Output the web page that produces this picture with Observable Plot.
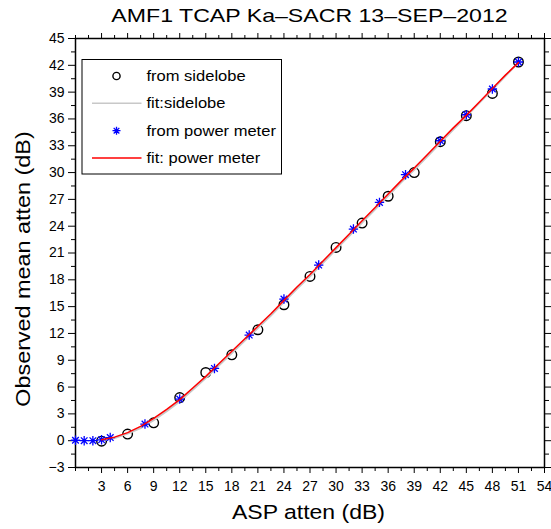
<!DOCTYPE html>
<html>
<head>
<meta charset="utf-8">
<script src="https://cdn.jsdelivr.net/npm/d3@7"></script>
<script src="https://cdn.jsdelivr.net/npm/@observablehq/plot@0.6"></script>
<style>
  body { margin: 0; background: #fff; }
  #chart svg { display: block; }
</style>
</head>
<body>
<div id="chart"></div>
<script>
// ---- data ----
const titleText = "AMF1 TCAP Ka\u2013SACR 13\u2013SEP\u20132012";
const xLabel = "ASP atten (dB)";
const yLabel = "Observed mean atten (dB)";
const legendLabels = ["from sidelobe", "fit:sidelobe", "from power meter", "fit: power meter"];

const sidelobeX = [3, 6, 9, 12, 15, 18, 21, 24, 27, 30, 33, 36, 39, 42, 45, 48, 51];
const sidelobeY = [-0.05, 0.74, 2.0, 4.83, 7.63, 9.61, 12.41, 15.21, 18.38, 21.62, 24.35, 27.35, 30.0, 33.45, 36.36, 38.86, 42.37];

const powerX = [0, 1, 2, 3, 4, 8, 12, 16, 20, 24, 28, 32, 35, 38, 42, 45, 48, 51];
const powerY = [0.05, 0.0, 0.0, 0.1, 0.35, 1.86, 4.66, 8.08, 11.82, 15.85, 19.65, 23.68, 26.66, 29.76, 33.56, 36.47, 39.35, 42.37];

const fitX = [3, 4.5, 6, 7.5, 9, 10.5, 12, 13.5, 15, 16.5, 18, 19.5, 21, 22.5, 24, 25.5, 27, 28.5, 30, 31.5, 33, 34.5, 36, 37.5, 39, 40.5, 42, 43.5, 45, 46.5, 48, 49.5, 51];
const fitPowerY = [0.1, 0.4, 0.9, 1.6, 2.5, 3.5, 4.6, 5.9, 7.2, 8.6, 10.0, 11.4, 12.8, 14.2, 15.7, 17.2, 18.6, 20.1, 21.6, 23.1, 24.6, 26.1, 27.6, 29.1, 30.5, 32.0, 33.5, 35.0, 36.4, 37.9, 39.4, 40.9, 42.3];
const fitSidelobeY = [0.0, 0.3, 0.8, 1.4, 2.3, 3.3, 4.4, 5.7, 7.0, 8.4, 9.8, 11.2, 12.6, 14.0, 15.5, 17.0, 18.4, 19.9, 21.4, 22.9, 24.4, 25.9, 27.4, 28.9, 30.3, 31.8, 33.3, 34.8, 36.3, 37.8, 39.3, 40.8, 42.3];

const xMajorTicks = [3, 6, 9, 12, 15, 18, 21, 24, 27, 30, 33, 36, 39, 42, 45, 48, 51, 54];
const xMinorTicks = [0, 1.5, 4.5, 7.5, 10.5, 13.5, 16.5, 19.5, 22.5, 25.5, 28.5, 31.5, 34.5, 37.5, 40.5, 43.5, 46.5, 49.5, 52.5];
const yMajorTicks = [-3, 0, 3, 6, 9, 12, 15, 18, 21, 24, 27, 30, 33, 36, 39, 42, 45];
const yMinorTicks = [-1.5, 1.5, 4.5, 7.5, 10.5, 13.5, 16.5, 19.5, 22.5, 25.5, 28.5, 31.5, 34.5, 37.5, 40.5, 43.5];

// ---- tables ----
const sidelobe = sidelobeX.map((x, i) => ({x, y: sidelobeY[i]}));
const power = powerX.map((x, i) => ({x, y: powerY[i]}));
const fitSidelobe = fitX.map((x, i) => ({x, y: fitSidelobeY[i]}));
const fitPower = fitX.map((x, i) => ({x, y: fitPowerY[i]}));

// 8-armed asterisk (MATLAB "*")
const star8 = {
  draw(ctx, size) {
    const r = Math.sqrt(size / Math.PI);
    const d = r * Math.SQRT1_2;
    ctx.moveTo(-r, 0); ctx.lineTo(r, 0);
    ctx.moveTo(0, -r); ctx.lineTo(0, r);
    ctx.moveTo(-d, -d); ctx.lineTo(d, d);
    ctx.moveTo(-d, d); ctx.lineTo(d, -d);
  }
};

const FONT = '"Liberation Sans", Arial, Helvetica, sans-serif';
const blank = () => "";

const svg = Plot.plot({
  width: 551,
  height: 529,
  marginLeft: 75,
  marginRight: 7,
  marginTop: 38,
  marginBottom: 62,
  style: {fontFamily: FONT, fontSize: "14px", color: "black", background: "white", overflow: "visible"},
  x: {domain: [0, 54]},
  y: {domain: [-3, 45]},
  marks: [
    Plot.axisX({ticks: xMinorTicks, anchor: "bottom", tickSize: 4, tickFormat: blank, label: null, strokeWidth: 1}),
    Plot.axisX({ticks: xMinorTicks, anchor: "top", tickSize: 4, tickFormat: blank, label: null, strokeWidth: 1}),
    Plot.axisX({ticks: xMajorTicks, anchor: "bottom", tickSize: 6, tickPadding: 8, label: null, fontSize: 14, strokeWidth: 1}),
    Plot.axisX({ticks: xMajorTicks, anchor: "top", tickSize: 6, tickFormat: blank, label: null, strokeWidth: 1}),
    Plot.axisY({ticks: yMinorTicks, anchor: "left", tickSize: 4, tickFormat: blank, label: null, strokeWidth: 1}),
    Plot.axisY({ticks: yMinorTicks, anchor: "right", tickSize: 4, tickFormat: blank, label: null, strokeWidth: 1}),
    Plot.axisY({ticks: yMajorTicks, anchor: "left", tickSize: 7, tickPadding: 4, label: null, fontSize: 14, strokeWidth: 1}),
    Plot.axisY({ticks: yMajorTicks, anchor: "right", tickSize: 7, tickFormat: blank, label: null, strokeWidth: 1}),
    Plot.frame({stroke: "black", strokeWidth: 1.5}),
    Plot.dot(sidelobe, {x: "x", y: "y", r: 4.8, stroke: "black", strokeWidth: 1.4, fill: "none"}),
    Plot.line(fitSidelobe, {x: "x", y: "y", stroke: "#c8c8c8", strokeWidth: 2, curve: "linear"}),
    Plot.dot(power, {x: "x", y: "y", symbol: star8, r: 4.7, stroke: "#0000ff", strokeWidth: 1.3, fill: "none"}),
    Plot.line(fitPower, {x: "x", y: "y", stroke: "#ff0000", strokeWidth: 1.5, curve: "linear"})
  ]
});

// ---- title, axis labels, legend (pixel layout) ----
const root = d3.select(svg);
function stretchText(parent, x, y, str, size, sx, anchor, rotate) {
  const g = parent.append("g")
    .attr("transform", `translate(${x},${y})` + (rotate ? ` rotate(${rotate})` : "") + ` scale(${sx},1)`);
  return g.append("text")
    .attr("font-family", FONT)
    .attr("font-size", size)
    .attr("fill", "black")
    .attr("text-anchor", anchor)
    .text(str);
}
stretchText(root, 309.5, 22, titleText, 18.5, 1.25, "middle");
stretchText(root, 308.5, 519, xLabel, 19.5, 1.18, "middle");
stretchText(root, 30, 269, yLabel, 19.5, 1.2, "middle", -90);

const leg = root.append("g");
leg.append("rect")
  .attr("x", 82).attr("y", 59.5).attr("width", 199.5).attr("height", 114.5)
  .attr("fill", "white").attr("stroke", "black").attr("stroke-width", 1);
const rowY = [76, 103.3, 130.7, 158];
legendLabels.forEach((label, i) => {
  const y = rowY[i];
  if (i === 0) {
    leg.append("circle").attr("cx", 116.5).attr("cy", y).attr("r", 3.6)
      .attr("fill", "none").attr("stroke", "black").attr("stroke-width", 1.4);
  } else if (i === 1) {
    leg.append("line").attr("x1", 92).attr("x2", 141.5).attr("y1", y).attr("y2", y)
      .attr("stroke", "#c8c8c8").attr("stroke-width", 1.5);
  } else if (i === 2) {
    leg.append("path").attr("transform", `translate(116.5,${y})`)
      .attr("d", d3.symbol(star8, Math.PI * 4 * 4)())
      .attr("fill", "none").attr("stroke", "#0000ff").attr("stroke-width", 1.3);
  } else {
    leg.append("line").attr("x1", 92).attr("x2", 141.5).attr("y1", y).attr("y2", y)
      .attr("stroke", "#ff0000").attr("stroke-width", 1.5);
  }
  stretchText(leg, 146.5, y + 5, label, 14.5, 1.14, "start");
});

document.getElementById("chart").appendChild(svg);
</script>
</body>
</html>
